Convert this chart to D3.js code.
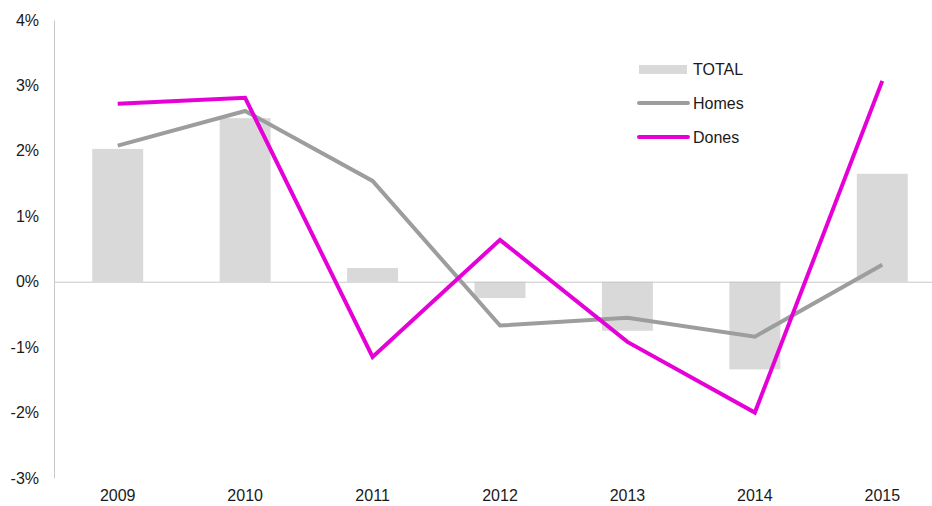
<!DOCTYPE html>
<html>
<head>
  <meta charset="utf-8">
  <script src="https://cdn.jsdelivr.net/npm/d3@7"></script>
  <style>
    body { margin: 0; background: #ffffff; }
    text { font-family: "Liberation Sans", Arial, sans-serif; font-size: 16px; fill: #1a1a1a; }
  </style>
</head>
<body>
  <svg id="mainsvg" width="932" height="506"></svg>
  <script>
    // values (percent)
    const years = ["2009", "2010", "2011", "2012", "2013", "2014", "2015"];
    const total = [2.03, 2.50, 0.21, -0.25, -0.75, -1.34, 1.65];
    const homes = [2.08, 2.61, 1.54, -0.67, -0.55, -0.84, 0.26];
    const dones = [2.72, 2.81, -1.15, 0.64, -0.92, -2.00, 3.07];
    const yTicks = [-3, -2, -1, 0, 1, 2, 3, 4];

    const svg = d3.select('#mainsvg');
    const margin = { top: 20, left: 54 };
    const plotRight = 946;
    const plotBottom = 478;

    const xScale = d3.scaleBand()
      .domain(years)
      .range([margin.left, plotRight])
      .paddingInner(0.6)
      .paddingOuter(0.3);
    const xCenter = d => xScale(d) + xScale.bandwidth() / 2;

    const yScale = d3.scaleLinear()
      .domain([-3, 4])
      .range([plotBottom, margin.top]);

    // bars
    svg.append('g').selectAll('rect')
      .data(years)
      .enter()
      .append('rect')
      .attr('x', d => xScale(d))
      .attr('width', xScale.bandwidth())
      .attr('y', (d, i) => yScale(Math.max(0, total[i])))
      .attr('height', (d, i) => Math.abs(yScale(total[i]) - yScale(0)))
      .attr('fill', '#d9d9d9');

    // y axis (line + labels, no ticks)
    const yAxis = d3.axisLeft(yScale)
      .tickValues(yTicks)
      .tickSize(0)
      .tickPadding(15)
      .tickFormat(d => d + '%');
    const yG = svg.append('g')
      .attr('transform', `translate(${margin.left},0)`)
      .call(yAxis);
    yG.select('.domain').attr('stroke', '#c8c8c8').attr('stroke-width', 1);
    yG.selectAll('text').style('font-size', '16px').attr('fill', '#1a1a1a');

    // zero line
    svg.append('line')
      .attr('x1', margin.left)
      .attr('x2', 932)
      .attr('y1', yScale(0) + 0.5)
      .attr('y2', yScale(0) + 0.5)
      .attr('stroke', '#c8c8c8')
      .attr('stroke-width', 1);

    // x labels
    const xAxis = d3.axisBottom(xScale).tickSize(0).tickPadding(12);
    const xG = svg.append('g')
      .attr('transform', `translate(0,${plotBottom})`)
      .call(xAxis);
    xG.select('.domain').remove();
    xG.selectAll('text').style('font-size', '16px').attr('fill', '#1a1a1a');

    // lines
    const line = d3.line()
      .x((d, i) => xCenter(years[i]))
      .y(d => yScale(d));

    svg.append('path')
      .attr('d', line(homes))
      .attr('fill', 'none')
      .attr('stroke', '#9c9e9e')
      .attr('stroke-width', 4);

    svg.append('path')
      .attr('d', line(dones))
      .attr('fill', 'none')
      .attr('stroke', '#e600d8')
      .attr('stroke-width', 4);

    // legend
    const legend = svg.append('g').attr('transform', 'translate(639,0)');
    legend.append('rect')
      .attr('x', 0).attr('y', 65)
      .attr('width', 48).attr('height', 9)
      .attr('fill', '#d9d9d9');
    legend.append('line')
      .attr('x1', 0).attr('x2', 49).attr('y1', 103).attr('y2', 103)
      .attr('stroke', '#9c9e9e').attr('stroke-width', 4).attr('stroke-linecap', 'round');
    legend.append('line')
      .attr('x1', 0).attr('x2', 49).attr('y1', 137).attr('y2', 137)
      .attr('stroke', '#e600d8').attr('stroke-width', 4).attr('stroke-linecap', 'round');
    legend.selectAll('text.lg')
      .data(['TOTAL', 'Homes', 'Dones'])
      .enter()
      .append('text')
      .attr('class', 'lg')
      .attr('x', 54)
      .attr('y', (d, i) => 75 + i * 34)
      .text(d => d);
  </script>
</body>
</html>
